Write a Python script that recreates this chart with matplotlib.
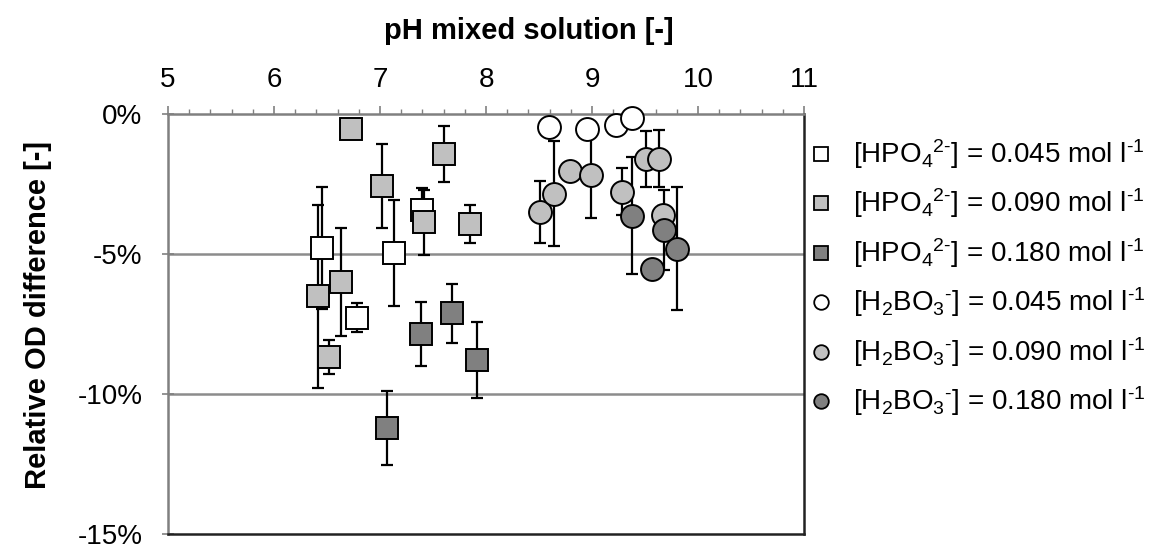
import matplotlib
matplotlib.use("Agg")
import matplotlib.pyplot as plt
from matplotlib.lines import Line2D
from matplotlib.ticker import MultipleLocator, FixedLocator

plt.rcParams['font.family'] = ['Liberation Sans', 'DejaVu Sans']
plt.rcParams['mathtext.fontset'] = 'custom'
plt.rcParams['mathtext.rm'] = 'Liberation Sans'
plt.rcParams['mathtext.it'] = 'Liberation Sans:italic'
plt.rcParams['mathtext.bf'] = 'Liberation Sans:bold'

# ---- data (pH, relative OD difference in %, error in %) ----
hpo_045_x = [6.456, 6.786, 7.129, 7.399]
hpo_045_y = [-4.78, -7.28, -4.96, -3.42]
hpo_045_e = [2.19, 0.52, 1.88, 0.77]

hpo_090_x = [6.412, 6.522, 6.629, 6.726, 7.022, 7.418, 7.604, 7.846]
hpo_090_y = [-6.51, -8.67, -5.99, -0.53, -2.565, -3.87, -1.44, -3.93]
hpo_090_e = [3.26, 0.60, 1.93, 0.20, 1.50, 1.15, 1.00, 0.67]

hpo_180_x = [7.066, 7.384, 7.679, 7.918]
hpo_180_y = [-11.21, -7.85, -7.12, -8.79]
hpo_180_e = [1.31, 1.15, 1.06, 1.36]

bo_045_x = [8.597, 8.950, 9.224, 9.377]
bo_045_y = [-0.45, -0.53, -0.38, -0.14]
bo_045_e = [0.20, 0.20, 0.20, 0.20]

bo_090_x = [8.507, 8.639, 8.792, 8.991, 9.280, 9.507, 9.632, 9.667]
bo_090_y = [-3.50, -2.85, -2.05, -2.17, -2.77, -1.61, -1.59, -3.60]
bo_090_e = [1.10, 1.87, 0.20, 1.55, 0.85, 1.00, 1.03, 0.30]

bo_180_x = [9.374, 9.563, 9.679, 9.799]
bo_180_y = [-3.63, -5.53, -4.13, -4.81]
bo_180_e = [2.10, 0.20, 1.43, 2.20]

labels = [
    r'[HPO$_4{}^{2\text{-}}$] = 0.045 mol l$^{\text{-1}}$',
    r'[HPO$_4{}^{2\text{-}}$] = 0.090 mol l$^{\text{-1}}$',
    r'[HPO$_4{}^{2\text{-}}$] = 0.180 mol l$^{\text{-1}}$',
    r'[H$_2$BO$_3{}^{\text{-}}$] = 0.045 mol l$^{\text{-1}}$',
    r'[H$_2$BO$_3{}^{\text{-}}$] = 0.090 mol l$^{\text{-1}}$',
    r'[H$_2$BO$_3{}^{\text{-}}$] = 0.180 mol l$^{\text{-1}}$',
]
x_ticks = [5, 6, 7, 8, 9, 10, 11]
y_ticks = [0, -5, -10, -15]
y_ticklabels = ['0%', '-5%', '-10%', '-15%']

series = [
    (hpo_045_x, hpo_045_y, hpo_045_e, 's', '#ffffff'),
    (hpo_090_x, hpo_090_y, hpo_090_e, 's', '#c0c0c0'),
    (hpo_180_x, hpo_180_y, hpo_180_e, 's', '#808080'),
    (bo_045_x, bo_045_y, bo_045_e, 'o', '#ffffff'),
    (bo_090_x, bo_090_y, bo_090_e, 'o', '#c0c0c0'),
    (bo_180_x, bo_180_y, bo_180_e, 'o', '#808080'),
]

W, H = 1156, 544
fig = plt.figure(figsize=(W / 100, H / 100), dpi=100)
ax = fig.add_axes([168 / W, 1 - 534 / H, (804 - 168) / W, (534 - 114) / H])

for xs, ys, es, m, c in series:
    ax.errorbar(xs, ys, yerr=es, fmt='none', ecolor='black', elinewidth=1.6,
                capsize=4.3, capthick=1.6, zorder=2)
for i, (xs, ys, es, m, c) in enumerate(series):
    ms = 15.5 if m == 's' else 16.5
    ax.plot(xs, ys, linestyle='none', marker=m, markersize=ms,
            markerfacecolor=c, markeredgecolor='black', markeredgewidth=1.4,
            zorder=3 + i, clip_on=False)

ax.set_xlim(5, 11)
ax.set_ylim(-15, 0)

for yv in [-5, -10]:
    ax.axhline(yv, color='#8c8c8c', linewidth=1.8, zorder=1)

ax.xaxis.tick_top()
ax.xaxis.set_major_locator(FixedLocator(x_ticks))
ax.xaxis.set_minor_locator(MultipleLocator(0.2))
ax.set_xticklabels([str(v) for v in x_ticks])
ax.yaxis.set_major_locator(FixedLocator(y_ticks))
ax.set_yticklabels(y_ticklabels)

ax.tick_params(axis='x', which='major', direction='out', length=6, width=1.2,
               color='#808080', labelsize=20, pad=9)
ax.tick_params(axis='x', which='minor', direction='out', length=3.5, width=1.0,
               color='#808080')
ax.tick_params(axis='y', which='major', direction='inout', length=8, width=1.2,
               color='#808080', labelsize=20, pad=14.5)

ax.spines['top'].set_color('#808080')
ax.spines['top'].set_linewidth(1.8)
ax.spines['left'].set_color('#808080')
ax.spines['left'].set_linewidth(1.8)
ax.spines['bottom'].set_color('#222222')
ax.spines['bottom'].set_linewidth(1.8)
ax.spines['right'].set_color('#222222')
ax.spines['right'].set_linewidth(1.8)

fig.text(529 / W, 1 - 31 / H, 'pH mixed solution [-]', ha='center', va='center',
         fontsize=21, fontweight='bold')
fig.text(38 / W, 1 - 315 / H, 'Relative OD difference [-]', ha='center', va='center',
         rotation=90, fontsize=21, fontweight='bold')

# legend, drawn row by row in figure pixels
row0, dy = 152.5, 49.4
for k, ((xs, ys, es, m, c), lab) in enumerate(zip(series, labels)):
    yc = row0 + k * dy
    fig.add_artist(Line2D([821 / W], [1 - (yc + 1.5) / H], transform=fig.transFigure,
                          linestyle='none', marker=m, markersize=10.5,
                          markerfacecolor=c, markeredgecolor='black',
                          markeredgewidth=1.3))
    fig.text(853 / W, 1 - (yc + 10.5) / H, lab, ha='left', va='baseline', fontsize=20)

fig.savefig('out.png', dpi=100)
